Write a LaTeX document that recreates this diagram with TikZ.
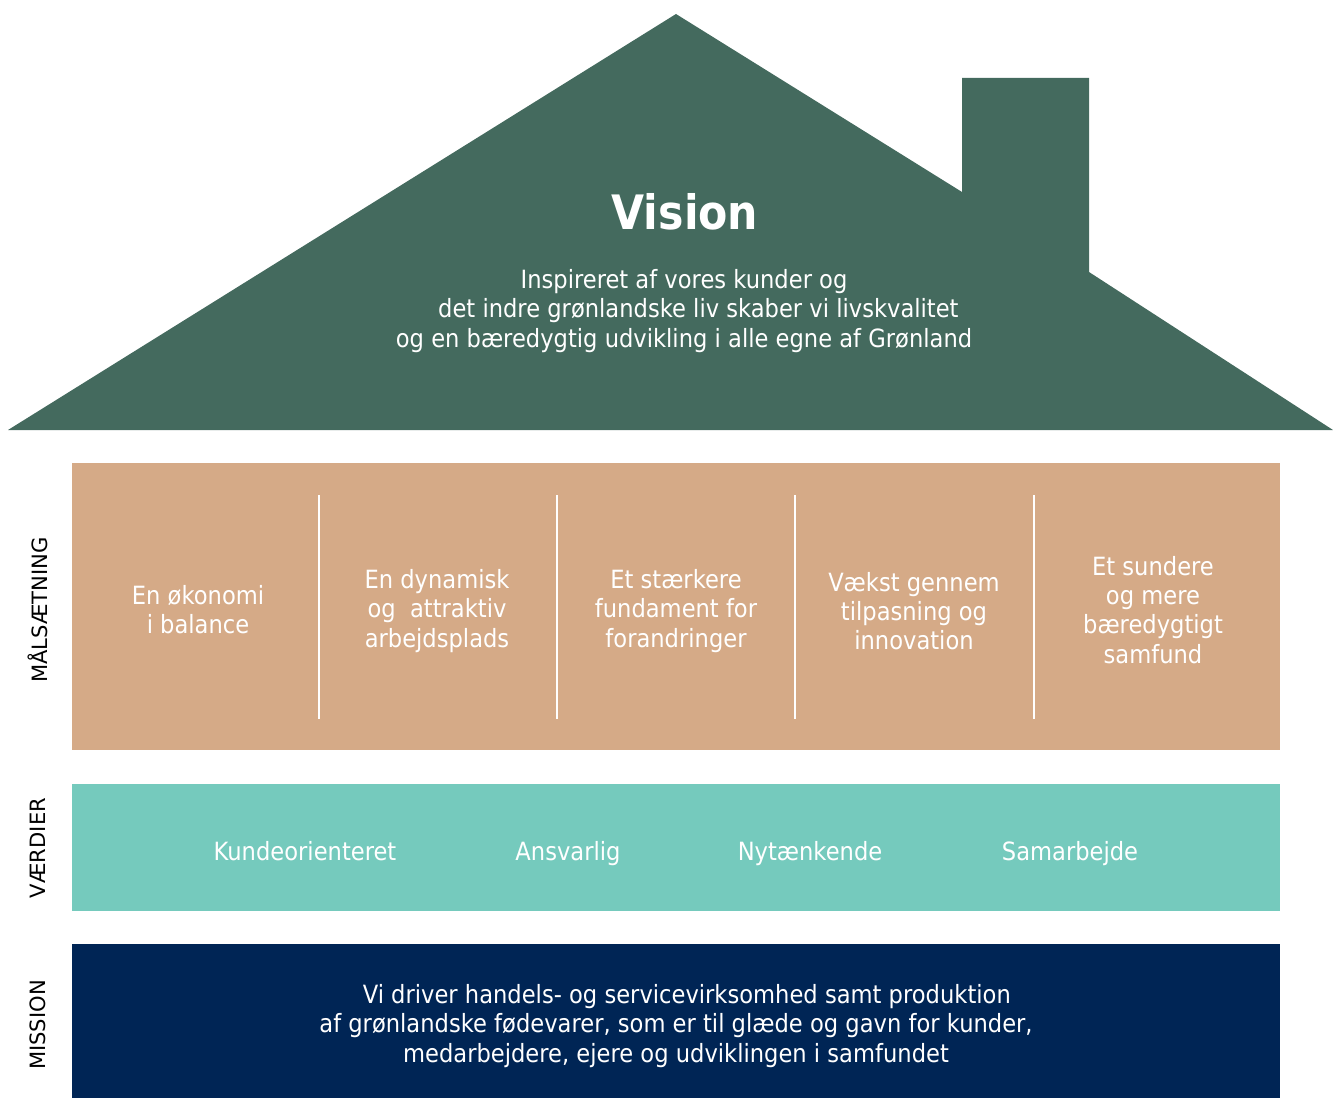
\documentclass[tikz,border=0pt]{standalone}
\usepackage{fontspec}
\setmainfont{DejaVu Sans}[FakeStretch=0.9]
\newfontfamily\sidefont{DejaVu Sans}
\definecolor{roofgreen}{RGB}{68,106,94}
\definecolor{goaltan}{RGB}{213,170,135}
\definecolor{valueteal}{RGB}{117,202,189}
\definecolor{missionnavy}{RGB}{0,37,85}

\begin{document}
\begin{tikzpicture}[x=0.02cm,y=-0.02cm,
  boxtext/.style={text=white,align=center,font=\fontsize{14.3}{16.6}\selectfont},
  sidelabel/.style={rotate=90,font=\sidefont\fontsize{12}{14}\selectfont}]
\useasboundingbox (0,0) rectangle (1333,1098);

% house with chimney
\fill[roofgreen] (8,430) -- (676,14) -- (962,192) -- (962,78) -- (1089,78)
  -- (1089,272) -- (1333,430) -- cycle;
\node[text=white,font=\bfseries\fontsize{27}{30}\selectfont] (vision) at (685,212) {Vision};
\node[boxtext] (visiontext) at (684,311) {Inspireret af vores kunder og\\
  \ \ \ \ det indre grønlandske liv skaber vi livskvalitet\\
  og en bæredygtig udvikling i alle egne af Grønland};

% maalsaetning
\fill[goaltan] (72,463) rectangle (1280,750);
\draw[white,line width=1.1pt] (319,495) -- (319,719);
\draw[white,line width=1.1pt] (557,495) -- (557,719);
\draw[white,line width=1.1pt] (795,495) -- (795,719);
\draw[white,line width=1.1pt] (1034,495) -- (1034,719);

\node[boxtext] (goal1) at (198,610) {En økonomi\\ i balance};
\node[boxtext] (goal2) at (437,611) {En dynamisk\\og\ \ attraktiv\\arbejdsplads};
\node[boxtext] (goal3) at (676,611) {Et stærkere\\fundament for\\forandringer};
\node[boxtext] (goal4) at (914,611) {Vækst gennem\\tilpasning og\\innovation};
\node[boxtext] (goal5) at (1153,610) {Et sundere\\og mere\\bæredygtigt\\samfund};

% vaerdier
\fill[valueteal] (72,784) rectangle (1280,911);
\node[boxtext,anchor=base] (value1) at (305,860) {Kundeorienteret};
\node[boxtext,anchor=base] (value2) at (568,860) {Ansvarlig};
\node[boxtext,anchor=base] (value3) at (810,860) {Nytænkende};
\node[boxtext,anchor=base] (value4) at (1070,860) {Samarbejde};

% mission
\fill[missionnavy] (72,944) rectangle (1280,1098);
\node[boxtext] (missiontext) at (676,1026) {\ \ \ Vi driver handels- og servicevirksomhed samt produktion\\
  af grønlandske fødevarer, som er til glæde og gavn for kunder,\\
  medarbejdere, ejere og udviklingen i samfundet};

% side labels
\node[sidelabel] (goallabel) at (38,610) {MÅLSÆTNING};
\node[sidelabel] (valuelabel) at (38,848) {VÆRDIER};
\node[sidelabel] (missionlabel) at (38,1025) {MISSION};
\end{tikzpicture}
\end{document}
